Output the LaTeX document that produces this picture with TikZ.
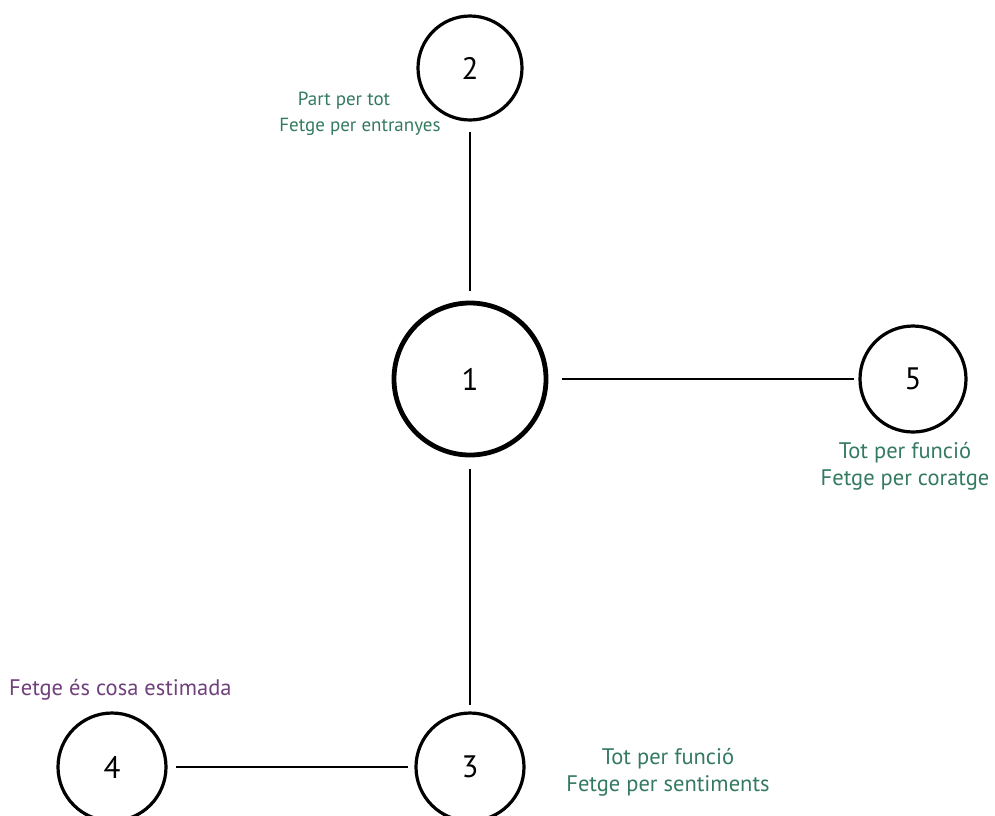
\documentclass[tikz,border=0pt]{standalone}
\usepackage{fontspec}
\setmainfont{PT Sans}
\definecolor{labgreen}{RGB}{52,122,96}
\definecolor{labpurple}{RGB}{112,64,124}
\begin{document}
\begin{tikzpicture}[x=1pt,y=-1pt,
  numnode/.style={circle,draw=black,line width=3.2pt,inner sep=0pt,font=\fontsize{31}{36}\selectfont},
  hubnode/.style={numnode,line width=4.8pt},
  link/.style={draw=black,line width=1.3pt},
  greenlab/.style={text=labgreen,font=\fontsize{22.5}{27}\selectfont,align=center,inner sep=0pt},
  smallgreenlab/.style={greenlab,font=\fontsize{19}{25}\selectfont},
  purplelab/.style={text=labpurple,font=\fontsize{22.5}{27}\selectfont,inner sep=0pt}]
\useasboundingbox (0,0) rectangle (995,815);
% circles
\node[hubnode,minimum size=152pt] (n1) at (470,379) {1};
\node[numnode,minimum size=104pt] (n2) at (470,68) {2};
\node[numnode,minimum size=106pt] (n5) at (913,379) {5};
\node[numnode,minimum size=108pt] (n3) at (470,767) {3};
\node[numnode,minimum size=108pt] (n4) at (112,767) {4};
% connectors, with a small gap at each end
\draw[link] ([yshift=-10pt]n2.south) -- ([yshift=10pt]n1.north);
\draw[link] ([xshift=14pt]n1.east) -- ([xshift=-4pt]n5.west);
\draw[link] ([yshift=-12pt]n1.south) -- ([yshift=6pt]n3.north);
\draw[link] ([xshift=8pt]n4.east) -- ([xshift=-6pt]n3.west);
% labels
\node[smallgreenlab] (l2a) at (344,101) {Part per tot};
\node[smallgreenlab] (l2b) at (360,127) {Fetge per entranyes};
\node[greenlab] (l5) at (905,466) {Tot per funció\\Fetge per coratge};
\node[greenlab] (l3) at (668,772) {Tot per funció\\Fetge per sentiments};
\node[purplelab,anchor=west] (l4) at (9,690) {Fetge és cosa estimada};
\end{tikzpicture}
\end{document}
